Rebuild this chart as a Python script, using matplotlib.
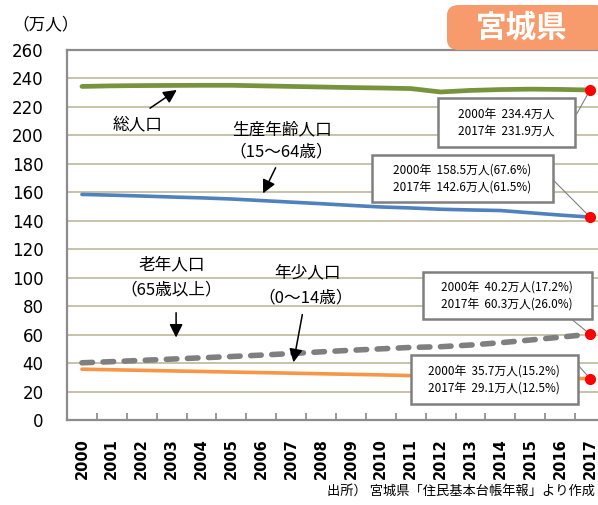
import numpy as np
import matplotlib
matplotlib.use("Agg")
import matplotlib.pyplot as plt
from matplotlib.patches import Rectangle, FancyBboxPatch

plt.rcParams['font.family'] = ['Noto Sans CJK JP', 'DejaVu Sans']

# data (万人)
years = list(range(2000, 2018))
total = [234.4, 234.8, 235.0, 235.1, 235.2, 235.2, 234.8, 234.4, 234.0,
         233.6, 233.3, 232.9, 230.5, 231.6, 232.2, 232.5, 232.3, 231.9]
working = [158.5, 158.0, 157.4, 156.7, 156.1, 155.3, 154.2, 153.1, 152.0,
           150.8, 149.7, 149.0, 148.1, 147.6, 147.2, 145.6, 144.0, 142.6]
elderly = [40.2, 41.0, 41.9, 42.8, 43.7, 44.6, 45.6, 46.7, 47.9,
           49.0, 50.0, 51.0, 51.5, 52.7, 54.3, 56.2, 58.2, 60.3]
youth = [35.7, 35.3, 34.9, 34.5, 34.1, 33.7, 33.3, 32.9, 32.5,
         32.1, 31.7, 31.2, 30.7, 30.3, 29.9, 29.6, 29.3, 29.1]

callouts = ["2000年  234.4万人\n2017年  231.9万人",
            "2000年  158.5万人(67.6%)\n2017年  142.6万人(61.5%)",
            "2000年  40.2万人(17.2%)\n2017年  60.3万人(26.0%)",
            "2000年  35.7万人(15.2%)\n2017年  29.1万人(12.5%)"]

W, H = 598, 505
fig = plt.figure(figsize=(W / 100, H / 100), dpi=100)
ax = fig.add_axes([67 / W, 85 / H, 538 / W, 370 / H])
x = np.arange(len(years))

grid_c = '#c3bea3'
for v in range(20, 260, 20):
    ax.axhline(v, color=grid_c, lw=1.3, zorder=1)

ax.plot(x, total, color='#77933c', lw=3.4, zorder=3, solid_capstyle='round')
ax.plot(x, working, color='#4f81bd', lw=2.6, zorder=3, solid_capstyle='round')
ax.plot(x, youth, color='#f79646', lw=2.6, zorder=3, solid_capstyle='round')
ax.plot(x, elderly, color='#7f7f7f', lw=4.0, zorder=3, dashes=(1.9, 1.9),
        dash_capstyle='round')

ends = [total[-1], working[-1], elderly[-1], youth[-1]]
ax.plot([x[-1]] * 4, ends, 'o', color='red', ms=7, zorder=6, clip_on=False)

ax.set_xlim(-0.5, 17.5)
ax.set_ylim(0, 260)
ax.set_yticks(range(0, 261, 20))
ax.tick_params(axis='y', length=0, pad=17, labelsize=12)
ax.set_xticks(x)
ax.set_xticklabels([str(y) for y in years], rotation=90, fontweight='bold',
                   fontsize=10.5)
ax.tick_params(axis='x', which='major', length=0, pad=13)
ax.set_xticks(x[:-1] + 0.5, minor=True)
ax.tick_params(axis='x', which='minor', direction='in', length=5,
               color='#888888', width=1.2)
for lab in ax.get_yticklabels() + ax.get_xticklabels():
    lab.set_family('DejaVu Sans')
for s in ['left', 'bottom', 'top']:
    ax.spines[s].set_color('#8c8c8c')
    ax.spines[s].set_linewidth(1.6)
ax.spines['right'].set_visible(False)

# callout boxes: (left, bottom, right, top) in data units, leader start
boxes = [((11.9, 191.8, 16.5, 226.3), (16.55, 215)),
         ((9.7, 153.2, 15.75, 186.2), (15.75, 169)),
         ((11.4, 71.0, 17.05, 104.0), (16.4, 70.5)),
         ((11.0, 11.2, 16.6, 45.7), (16.6, 38.5))]
for (b, lead), txt, yv in zip(boxes, callouts, ends):
    l, bt, r, t = b
    ax.add_patch(Rectangle((l, bt), r - l, t - bt, facecolor='white',
                           edgecolor='#7f7f7f', lw=1.8, zorder=5))
    ax.text((l + r) / 2, (bt + t) / 2, txt, ha='center', va='center',
            fontsize=8.5, linespacing=1.35, zorder=6)
    ax.plot([lead[0], x[-1]], [lead[1], yv], color='#7f7f7f', lw=0.8,
            zorder=4, clip_on=False)

# series labels with arrows
akw = dict(arrowstyle='-|>', color='black', lw=1.1, mutation_scale=20)
ax.text(1.87, 206.6, '総人口', ha='center', va='center', fontsize=12)
ax.annotate('', xy=(3.25, 233.0), xytext=(2.2, 218), arrowprops=akw)
ax.text(6.69, 203.8, '生産年齢人口', ha='center', va='center', fontsize=12)
ax.text(6.65, 188.3, '（15～64歳）', ha='center', va='center', fontsize=12)
ax.annotate('', xy=(6.02, 157.5), xytext=(6.52, 179), arrowprops=akw)
ax.text(3.0, 108.9, '老年人口', ha='center', va='center', fontsize=12)
ax.text(3.0, 91.4, '（65歳以上）', ha='center', va='center', fontsize=12)
ax.annotate('', xy=(3.15, 56.0), xytext=(3.15, 77.3), arrowprops=akw)
ax.text(7.53, 103.3, '年少人口', ha='center', va='center', fontsize=12)
ax.text(7.5, 85.7, '（0～14歳）', ha='center', va='center', fontsize=12)
ax.annotate('', xy=(7.06, 38.6), xytext=(7.39, 76), arrowprops=akw)

fig.text(12 / W, 1 - 25 / H, '（万人）', ha='left', va='center', fontsize=12)
fig.text(595 / W, 1 - 491 / H, '出所） 宮城県「住民基本台帳年報」より作成',
         ha='right', va='center', fontsize=9.5)

badge = FancyBboxPatch((447 / W, 1 - 50 / H), 160 / W, 45 / H,
                       boxstyle='round,pad=0,rounding_size=0.02',
                       transform=fig.transFigure, facecolor='#f89b6c',
                       edgecolor='none', zorder=10)
fig.patches.append(badge)
fig.text(522 / W, 1 - 28 / H, '宮城県', ha='center', va='center', fontsize=22,
         fontweight='bold', color='white', zorder=11)

fig.savefig('out.png', dpi=100)
